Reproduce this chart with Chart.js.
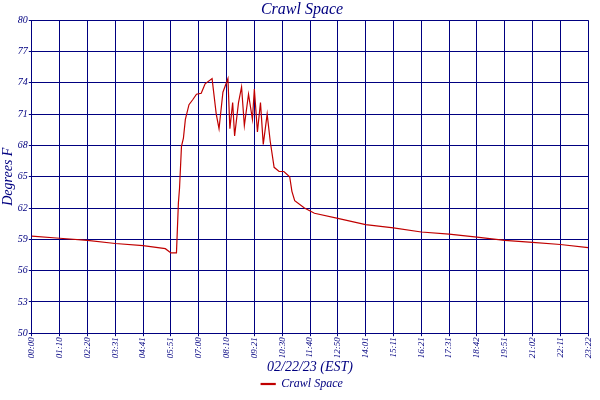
<!DOCTYPE html>
<html>
<head>
<script src="https://cdn.jsdelivr.net/npm/chart.js@4/dist/chart.umd.min.js"></script>
<style>body{margin:0;background:#fff}#wrap{width:600px;height:400px}</style>
</head>
<body>
<div id="wrap"><canvas id="c"></canvas></div>
<script>
// x positions are in tick-interval units (one interval ≈ 70 min)
const tickLabels = ['00:00','01:10','02:20','03:31','04:41','05:51','07:00','08:10','09:21','10:30','11:40','12:50','14:01','15:11','16:21','17:31','18:42','19:51','21:02','22:11','23:22'];
const yTicks = [50,53,56,59,62,65,68,71,74,77,80];
const times = [0,1,2,3,4,4.8,5.0,5.2,5.27,5.31,5.38,5.45,5.52,5.65,5.79,5.92,6.09,6.23,6.48,6.48,6.63,6.73,6.87,7.05,7.12,7.22,7.29,7.43,7.54,7.64,7.79,7.93,8.0,8.11,8.22,8.32,8.46,8.57,8.71,8.89,9.06,9.27,9.35,9.45,9.8,10.16,11,12,13,14,15,16,17,18,19,20];
const temps = [59.3,59.1,58.9,58.6,58.4,58.1,57.7,57.7,62.5,63.9,67.9,68.7,70.5,71.9,72.4,72.9,73.0,73.9,74.4,74.4,71,69.6,73.1,74.4,69.6,72.1,68.9,72.1,73.6,69.9,72.9,70.5,73.4,69.3,72.1,68.1,71,68.4,65.9,65.5,65.5,65,63.6,62.7,62,61.5,61,60.4,60.1,59.7,59.5,59.2,58.9,58.7,58.5,58.2];

const navy = '#000080';
const f = (size) => ({ family: 'Liberation Serif', style: 'italic', size: size, weight: 'normal' });
new Chart(document.getElementById('c'), {
  type: 'line',
  data: {
    datasets: [{
      label: 'Crawl Space',
      data: times.map((t, i) => ({ x: t, y: temps[i] })),
      borderColor: '#c00000',
      backgroundColor: '#c00000',
      borderWidth: 1.2,
      pointRadius: 0
    }]
  },
  options: {
    animation: false,
    responsive: true,
    maintainAspectRatio: false,
    layout: { padding: { right: -4, left: 0, top: 0, bottom: 0 } },
    plugins: {
      title: { display: true, text: 'Crawl Space', color: navy, padding: { top: 0, bottom: 1 }, font: f(16) },
      legend: { position: 'bottom', labels: { color: navy, boxWidth: 14, boxHeight: 1, padding: 2, font: f(12) } }
    },
    scales: {
      x: {
        type: 'linear', min: 0, max: 20,
        afterBuildTicks: s => { s.ticks = tickLabels.map((_, i) => ({ value: i })); },
        ticks: { color: navy, maxRotation: 90, minRotation: 90, autoSkip: false, padding: 1,
          callback: v => tickLabels[v], font: f(9) },
        grid: { color: navy, lineWidth: 1, tickLength: 3 },
        border: { color: navy },
        title: { display: true, text: '02/22/23 (EST)', color: navy, padding: 0, font: f(14) }
      },
      y: {
        min: 50, max: 80,
        afterBuildTicks: s => { s.ticks = yTicks.map(v => ({ value: v })); },
        ticks: { color: navy, padding: 1, font: f(10) },
        grid: { color: navy, lineWidth: 1, tickLength: 3 },
        border: { color: navy },
        title: { display: true, text: 'Degrees F', color: navy, padding: 0, font: f(14) }
      }
    }
  }
});
</script>
</body>
</html>
